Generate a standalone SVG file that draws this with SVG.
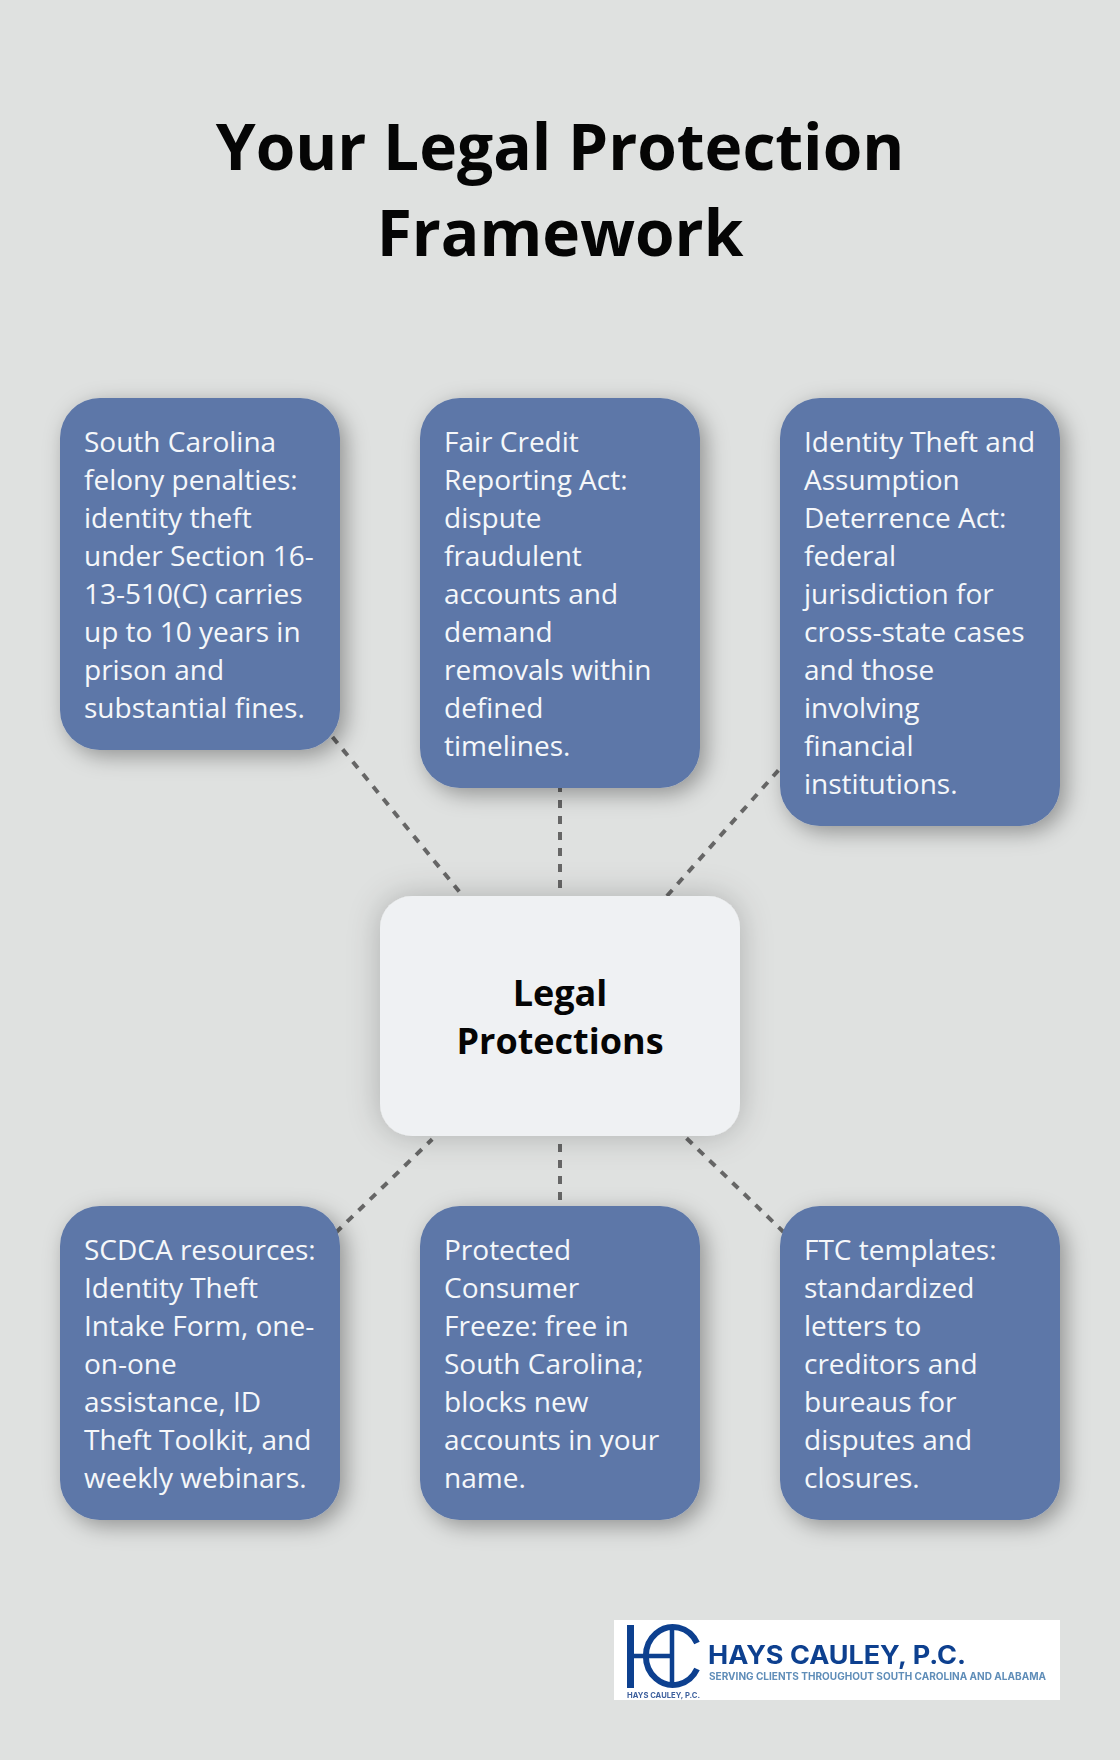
<svg xmlns="http://www.w3.org/2000/svg" width="1120" height="1760" viewBox="0 0 1120 1760">
<style>
.t{font-family:"Open Sans","Noto Sans",sans-serif}
.b{fill:#5d77a8;filter:url(#s)}
.w{font-size:28px;fill:#f5f7fa}
.c{stroke:#666;stroke-width:4;stroke-dasharray:8 8;fill:none}
.l{font-family:Inter,"Liberation Sans",sans-serif;font-weight:700}
</style>
<defs>
<filter id="s" x="-20%" y="-20%" width="150%" height="150%"><feDropShadow dx="6" dy="6" stdDeviation="11" flood-color="#000" flood-opacity=".35"/></filter>
<filter id="s2" x="-25%" y="-30%" width="150%" height="160%"><feDropShadow dx="0" dy="0" stdDeviation="16" flood-color="#000" flood-opacity=".22"/></filter>
<filter id="blur" x="-5%" y="-5%" width="110%" height="110%"><feGaussianBlur stdDeviation=".45"/></filter>
</defs>
<rect width="1120" height="1760" fill="#dfe1e0"/>
<g id="title" class="t" font-size="64" font-weight="700" text-anchor="middle" fill="#050505">
<text x="560" y="170">Your Legal Protection</text>
<text x="560" y="256">Framework</text>
</g>
<g id="connectors">
<path class="c" d="M332.5 737L459.2 891.4"/>
<path class="c" d="M560 784V888"/>
<path class="c" d="M778.4 770.3L666.3 896.7"/>
<path class="c" d="M335.6 1232.8L432.2 1139.2"/>
<path class="c" d="M560 1144V1200"/>
<path class="c" d="M686.5 1138.2L783.5 1232"/>
</g>
<g id="center"><rect x="380" y="896" width="360" height="240" rx="32" fill="#eff1f3" filter="url(#s2)"/>
<g class="t" font-size="36" font-weight="700" text-anchor="middle" fill="#050505"><text x="560" y="1006">Legal</text><text x="560" y="1054">Protections</text></g></g>
<g id="n1"><rect class="b" x="60" y="398" width="280" height="352" rx="40"/>
<text class="t w"><tspan x="84" y="452">South Carolina</tspan><tspan x="84" y="490">felony penalties:</tspan><tspan x="84" y="528">identity theft</tspan><tspan x="84" y="566">under Section 16-</tspan><tspan x="84" y="604">13-510(C) carries</tspan><tspan x="84" y="642">up to 10 years in</tspan><tspan x="84" y="680">prison and</tspan><tspan x="84" y="718">substantial fines.</tspan></text></g>
<g id="n2"><rect class="b" x="420" y="398" width="280" height="390" rx="40"/>
<text class="t w"><tspan x="444" y="452">Fair Credit</tspan><tspan x="444" y="490">Reporting Act:</tspan><tspan x="444" y="528">dispute</tspan><tspan x="444" y="566">fraudulent</tspan><tspan x="444" y="604">accounts and</tspan><tspan x="444" y="642">demand</tspan><tspan x="444" y="680">removals within</tspan><tspan x="444" y="718">defined</tspan><tspan x="444" y="756">timelines.</tspan></text></g>
<g id="n3"><rect class="b" x="780" y="398" width="280" height="428" rx="40"/>
<text class="t w"><tspan x="804" y="452">Identity Theft and</tspan><tspan x="804" y="490">Assumption</tspan><tspan x="804" y="528">Deterrence Act:</tspan><tspan x="804" y="566">federal</tspan><tspan x="804" y="604">jurisdiction for</tspan><tspan x="804" y="642">cross-state cases</tspan><tspan x="804" y="680">and those</tspan><tspan x="804" y="718">involving</tspan><tspan x="804" y="756">financial</tspan><tspan x="804" y="794">institutions.</tspan></text></g>
<g id="n4"><rect class="b" x="60" y="1206" width="280" height="314" rx="40"/>
<text class="t w"><tspan x="84" y="1260">SCDCA resources:</tspan><tspan x="84" y="1298">Identity Theft</tspan><tspan x="84" y="1336">Intake Form, one-</tspan><tspan x="84" y="1374">on-one</tspan><tspan x="84" y="1412">assistance, ID</tspan><tspan x="84" y="1450">Theft Toolkit, and</tspan><tspan x="84" y="1488">weekly webinars.</tspan></text></g>
<g id="n5"><rect class="b" x="420" y="1206" width="280" height="314" rx="40"/>
<text class="t w"><tspan x="444" y="1260">Protected</tspan><tspan x="444" y="1298">Consumer</tspan><tspan x="444" y="1336">Freeze: free in</tspan><tspan x="444" y="1374">South Carolina;</tspan><tspan x="444" y="1412">blocks new</tspan><tspan x="444" y="1450">accounts in your</tspan><tspan x="444" y="1488">name.</tspan></text></g>
<g id="n6"><rect class="b" x="780" y="1206" width="280" height="314" rx="40"/>
<text class="t w"><tspan x="804" y="1260">FTC templates:</tspan><tspan x="804" y="1298">standardized</tspan><tspan x="804" y="1336">letters to</tspan><tspan x="804" y="1374">creditors and</tspan><tspan x="804" y="1412">bureaus for</tspan><tspan x="804" y="1450">disputes and</tspan><tspan x="804" y="1488">closures.</tspan></text></g>
<g id="logo"><rect x="614" y="1620" width="446" height="80" fill="#fff"/>
<g filter="url(#blur)">
<path d="M630.5 1625V1688" stroke="#0b3f8f" stroke-width="7" fill="none"/>
<path d="M634 1656H672M672 1627V1685" stroke="#0b3f8f" stroke-width="4.5" fill="none"/>
<path d="M697 1643A27 29 0 1 0 697 1669" stroke="#0b3f8f" stroke-width="6" fill="none"/>
<text class="l" x="708" y="1664" font-size="25" fill="#0b3f8f" textLength="258" lengthAdjust="spacingAndGlyphs">HAYS CAULEY, P.C.</text>
<text class="l" x="709" y="1680" font-size="10" fill="#5f8db8" textLength="337" lengthAdjust="spacingAndGlyphs">SERVING CLIENTS THROUGHOUT SOUTH CAROLINA AND ALABAMA</text>
<text class="l" x="627" y="1698" font-size="7.5" fill="#3c5f9c" textLength="73" lengthAdjust="spacingAndGlyphs">HAYS CAULEY, P.C.</text>
</g></g>
</svg>
